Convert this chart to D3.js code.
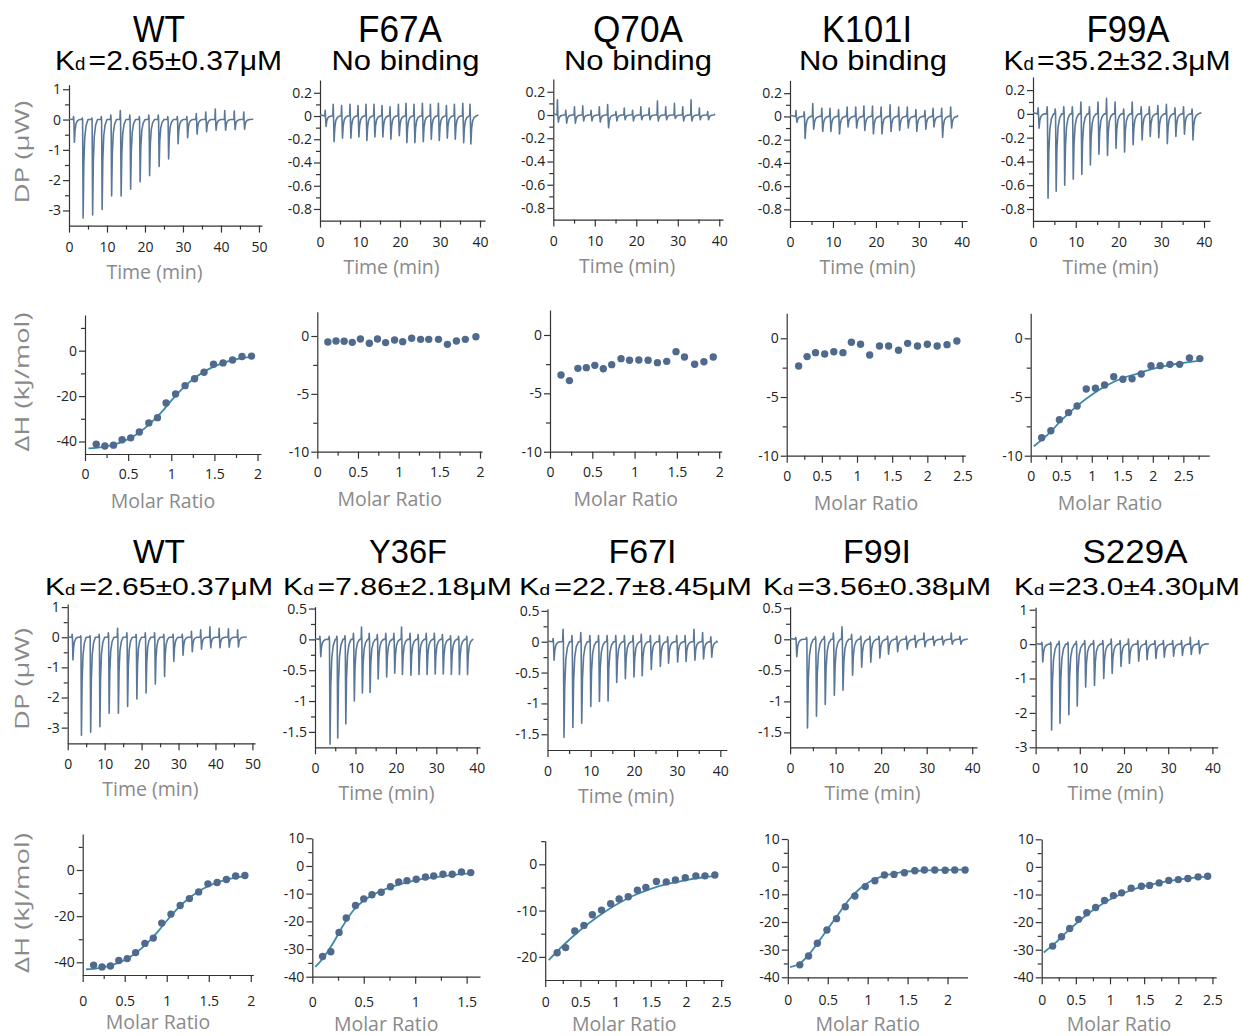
<!DOCTYPE html>
<html>
<head>
<meta charset="utf-8">
<script src="https://cdn.jsdelivr.net/npm/d3@7"></script>
<style>
  body { margin: 0; background: #fff; }
  svg { display: block; }
  .axis path, .axis line { stroke: #333; stroke-width: 1.2; }
  .axis .tick text { font-family: "Open Sans", sans-serif; font-size: 14px; fill: #222; }
  .title { font-family: "Liberation Sans", Arial, sans-serif; fill: #000; }
  .lab { font-family: "Open Sans", sans-serif; fill: #8a8a8a; font-size: 19.5px; }
</style>
</head>
<body>
<svg width="1242" height="1036"></svg>
<script>
var svg = d3.select("svg");

// panel titles
var names = ["WT", "F67A", "Q70A", "K101I", "F99A", "WT", "Y36F", "F67I", "F99I", "S229A"];
var kdText = ["=2.65±0.37μM", null, null, null, "=35.2±32.3μM",
              "=2.65±0.37μM", "=7.86±2.18μM", "=22.7±8.45μM", "=3.56±0.38μM", "=23.0±4.30μM"];

// axis ticks
var time50 = [0, 10, 20, 30, 40, 50], time50m = [5, 15, 25, 35, 45];
var time40 = [0, 10, 20, 30, 40], time40m = [5, 15, 25, 35];
var dp3 = [-3, -2, -1, 0, 1], dp3m = [-2.5, -1.5, -0.5, 0.5];
var dpSmall = [-0.8, -0.6, -0.4, -0.2, 0, 0.2], dpSmallm = [-0.7, -0.5, -0.3, -0.1, 0.1];
var dpMid = [-1.5, -1, -0.5, 0, 0.5], dpMidm = [-1.25, -0.75, -0.25, 0.25];
var mr2 = [0, 0.5, 1, 1.5, 2], mr2m = [0.25, 0.75, 1.25, 1.75];
var mr25 = [0, 0.5, 1, 1.5, 2, 2.5], mr25m = [0.25, 0.75, 1.25, 1.75, 2.25];
var mr25x = [0.25, 0.75, 1.25, 1.75, 2.25, 2.75];
var mr15 = [0, 0.5, 1, 1.5], mr15m = [0.25, 0.75, 1.25];
var dh40 = [-40, -20, 0], dh40m = [-30, -10, 10];
var dh10 = [-10, -5, 0], dh10m = [-7.5, -2.5];
var dhWide = [-40, -30, -20, -10, 0, 10], dhWidem = [-35, -25, -15, -5, 5];
var dh20 = [-20, -10, 0], dh20m = [-15, -5, 5];

// thermograms: injection time (min), lowest DP (uW), spike above baseline (uW)
var wtInj = [1.2, 3.5, 6.0, 8.5, 11.0, 13.5, 16.0, 18.5, 21.0, 23.5, 26.0, 28.5, 31.0, 33.5, 36.0, 38.5, 41.0, 43.5, 46.0];
var wtDP  = [-0.75, -3.25, -3.15, -2.97, -2.52, -2.52, -2.3, -2.05, -1.85, -1.55, -1.3, -0.8, -0.6, -0.48, -0.4, -0.35, -0.35, -0.33, -0.32];
var wtUp  = [0.1, 0.05, 0.05, 0.1, 0.15, 0.3, 0.15, 0.1, 0.15, 0.15, 0.1, 0.1, 0.1, 0.2, 0.25, 0.35, 0.3, 0.28, 0.25];

var f67aInj = [1.3, 3.3, 5.4, 7.5, 9.5, 11.5, 13.5, 15.5, 17.5, 19.6, 21.5, 23.5, 25.6, 27.6, 29.6, 31.6, 33.6, 35.7, 37.5];
var f67aDP  = [-0.09, -0.22, -0.19, -0.19, -0.18, -0.21, -0.18, -0.18, -0.2, -0.17, -0.23, -0.23, -0.22, -0.2, -0.21, -0.19, -0.2, -0.23, -0.24];
var f67aUp  = [0.05, 0.1, 0.09, 0.1, 0.09, 0.1, 0.1, 0.09, 0.08, 0.1, 0.11, 0.1, 0.11, 0.1, 0.11, 0.09, 0.1, 0.11, 0.1];

var q70aInj = [1.0, 3.0, 5.1, 7.1, 9.1, 11.1, 13.1, 15.1, 17.1, 19.1, 21.1, 23.1, 25.1, 27.1, 29.2, 31.2, 33.2, 35.2, 37.2];
var q70aDP  = [-0.06, -0.07, -0.07, -0.05, -0.05, -0.06, -0.11, -0.05, -0.04, -0.05, -0.04, -0.04, -0.05, -0.04, -0.03, -0.05, -0.05, -0.04, -0.04];
var q70aUp  = [0.13, 0.04, 0.07, 0.08, 0.04, 0.07, 0.09, 0.03, 0.06, 0.04, 0.07, 0.06, 0.12, 0.07, 0.1, 0.07, 0.13, 0.06, 0.03];

var k101iInj = [1.4, 3.3, 5.3, 7.4, 9.3, 11.3, 13.3, 15.3, 17.2, 19.2, 21.2, 23.3, 25.3, 27.3, 29.3, 31.4, 33.3, 35.3, 37.4];
var k101iDP  = [-0.05, -0.19, -0.11, -0.13, -0.13, -0.15, -0.09, -0.1, -0.12, -0.15, -0.15, -0.13, -0.12, -0.1, -0.13, -0.11, -0.09, -0.18, -0.1];
var k101iUp  = [0.05, 0.04, 0.11, 0.07, 0.07, 0.06, 0.08, 0.08, 0.09, 0.09, 0.08, 0.1, 0.08, 0.08, 0.06, 0.05, 0.07, 0.07, 0.08];

var f99aInj = [1.2, 3.3, 5.2, 7.2, 9.2, 11.2, 13.2, 15.2, 17.2, 19.2, 21.2, 23.2, 25.3, 27.2, 29.2, 31.2, 33.2, 35.2, 37.2];
var f99aDP  = [-0.12, -0.71, -0.65, -0.6, -0.55, -0.51, -0.43, -0.34, -0.35, -0.29, -0.32, -0.26, -0.22, -0.19, -0.2, -0.25, -0.19, -0.17, -0.22];
var f99aUp  = [0.05, 0.06, 0.04, 0.06, 0.06, 0.1, 0.06, 0.1, 0.13, 0.1, 0.04, 0.1, 0.06, 0.06, 0.07, 0.08, 0.05, 0.06, 0.04];

var y36fInj = [1.2, 3.5, 5.4, 7.4, 9.5, 11.5, 13.4, 15.4, 17.5, 19.5, 21.4, 23.5, 25.5, 27.5, 29.5, 31.5, 33.5, 35.5, 37.5];
var y36fDP  = [-0.28, -1.7, -1.6, -1.37, -1.0, -0.87, -0.86, -0.64, -0.61, -0.55, -0.57, -0.58, -0.57, -0.57, -0.56, -0.56, -0.57, -0.57, -0.57];
var y36fUp  = [0.05, 0.05, 0.05, 0.06, 0.1, 0.2, 0.1, 0.08, 0.1, 0.1, 0.2, 0.1, 0.08, 0.1, 0.1, 0.08, 0.06, 0.05, 0.05];

var f67iInj = [1.3, 3.6, 5.65, 7.7, 9.8, 11.8, 13.8, 15.8, 17.8, 19.8, 21.7, 23.8, 25.9, 27.8, 29.9, 31.85, 33.9, 35.9, 37.8];
var f67iDP  = [-0.3, -1.55, -1.39, -1.32, -1.05, -0.97, -0.96, -0.66, -0.6, -0.57, -0.55, -0.45, -0.4, -0.35, -0.33, -0.32, -0.3, -0.28, -0.25];
var f67iUp  = [0.05, 0.2, 0.1, 0.15, 0.1, 0.1, 0.1, 0.1, 0.1, 0.1, 0.12, 0.1, 0.1, 0.08, 0.1, 0.1, 0.2, 0.15, 0.08];

var f99iInj = [1.24, 3.6, 5.57, 7.5, 9.5, 11.4, 13.5, 15.5, 17.5, 19.5, 21.4, 23.4, 25.5, 27.4, 29.4, 31.4, 33.4, 35.4, 37.3];
var f99iDP  = [-0.28, -1.43, -1.24, -1.05, -0.9, -0.82, -0.58, -0.45, -0.37, -0.3, -0.24, -0.2, -0.16, -0.13, -0.12, -0.1, -0.09, -0.08, -0.08];
var f99iUp  = [0.03, 0.03, 0.04, 0.05, 0.1, 0.2, 0.08, 0.05, 0.05, 0.05, 0.05, 0.05, 0.05, 0.06, 0.1, 0.05, 0.05, 0.1, 0.05];

var s229aInj = [1.4, 3.4, 5.3, 7.3, 9.2, 11.1, 13.1, 15.2, 17.1, 19.1, 21.0, 23.1, 25.0, 27.0, 28.9, 31.0, 33.0, 35.0, 36.9];
var s229aDP  = [-0.52, -2.5, -2.3, -2.05, -1.8, -1.25, -1.2, -1.0, -0.85, -0.65, -0.56, -0.5, -0.45, -0.42, -0.38, -0.35, -0.33, -0.3, -0.28];
var s229aUp  = [0.05, 0.05, 0.08, 0.05, 0.08, 0.1, 0.1, 0.1, 0.15, 0.1, 0.15, 0.1, 0.1, 0.1, 0.1, 0.1, 0.1, 0.2, 0.1];

// isotherms: molar ratio, heat (kJ/mol), fitted curve points
var wtMR = [0.13, 0.23, 0.33, 0.43, 0.53, 0.63, 0.74, 0.84, 0.94, 1.05, 1.16, 1.27, 1.38, 1.49, 1.6, 1.71, 1.82, 1.93];
var wtDH = [-41.2, -42.0, -41.6, -39.2, -38.4, -35.8, -31.8, -29.5, -23.0, -19.1, -15.4, -12.4, -9.5, -6.0, -5.4, -4.1, -2.6, -2.4];
var wtFit = [[0.04, -43], [0.2, -42.5], [0.4, -40.6], [0.6, -36.8], [0.8, -30.5], [0.9, -26.5], [1.0, -22],
             [1.1, -17.8], [1.2, -14.2], [1.4, -8.8], [1.6, -5.4], [1.8, -3.4], [1.94, -2.6]];

var f67aMR = [0.13, 0.23, 0.33, 0.43, 0.53, 0.64, 0.74, 0.84, 0.95, 1.05, 1.16, 1.27, 1.37, 1.49, 1.6, 1.71, 1.82, 1.95];
var f67aDH = [-0.52, -0.43, -0.46, -0.55, -0.26, -0.63, -0.26, -0.57, -0.34, -0.49, -0.2, -0.29, -0.29, -0.29, -0.72, -0.43, -0.29, -0.06];

var q70aMR = [0.13, 0.23, 0.33, 0.43, 0.53, 0.63, 0.73, 0.84, 0.94, 1.05, 1.16, 1.27, 1.38, 1.49, 1.59, 1.71, 1.82, 1.93];
var q70aDH = [-3.43, -3.91, -2.86, -2.8, -2.6, -2.89, -2.54, -2.03, -2.17, -2.14, -2.17, -2.37, -2.26, -1.43, -1.89, -2.51, -2.29, -1.89];

var k101iMR = [0.17, 0.29, 0.41, 0.54, 0.67, 0.8, 0.92, 1.05, 1.18, 1.32, 1.45, 1.59, 1.72, 1.86, 2.0, 2.14, 2.28, 2.42];
var k101iDH = [-2.36, -1.56, -1.22, -1.34, -1.14, -1.22, -0.34, -0.51, -1.42, -0.65, -0.65, -1.02, -0.43, -0.65, -0.51, -0.65, -0.54, -0.23];

var f99aMR = [0.18, 0.33, 0.47, 0.62, 0.76, 0.91, 1.06, 1.21, 1.36, 1.51, 1.66, 1.81, 1.97, 2.12, 2.28, 2.44, 2.6, 2.77];
var f99aDH = [-8.47, -7.87, -6.93, -6.33, -5.77, -4.32, -4.26, -3.98, -3.27, -3.49, -3.44, -3.04, -2.33, -2.33, -2.22, -2.22, -1.68, -1.73];
var f99aFit = [[0.05, -9.2], [0.3, -8.1], [0.5, -7.0], [0.75, -5.8], [1.0, -4.8], [1.25, -4.0], [1.5, -3.4],
               [1.75, -3.0], [2.0, -2.6], [2.25, -2.3], [2.5, -2.1], [2.78, -1.9]];

var y36fMR = [0.1, 0.18, 0.26, 0.33, 0.42, 0.5, 0.58, 0.67, 0.76, 0.84, 0.92, 1.01, 1.1, 1.18, 1.27, 1.36, 1.45, 1.54];
var y36fDH = [-32.7, -31.0, -24.0, -18.8, -14.3, -11.9, -10.4, -9.5, -7.5, -5.8, -5.3, -4.8, -4.0, -3.6, -3.0, -3.0, -2.2, -2.4];
var y36fFit = [[0.03, -36.5], [0.1, -33.5], [0.2, -28], [0.3, -21.5], [0.4, -16], [0.5, -12.5], [0.6, -10.2],
               [0.8, -7.2], [1.0, -5.2], [1.2, -4], [1.4, -3.1], [1.55, -2.6]];

var f67iMR = [0.17, 0.29, 0.42, 0.55, 0.67, 0.8, 0.93, 1.05, 1.18, 1.31, 1.43, 1.58, 1.72, 1.85, 1.99, 2.14, 2.27, 2.41];
var f67iDH = [-19.1, -18.0, -14.4, -13.2, -10.9, -9.9, -8.5, -7.5, -7.0, -5.6, -5.0, -3.7, -3.8, -3.4, -2.9, -2.5, -2.5, -2.3];
var f67iFit = [[0.05, -20.7], [0.25, -17.6], [0.5, -14.2], [0.75, -11.3], [1.0, -8.8], [1.25, -6.8], [1.5, -5.3],
               [1.75, -4.2], [2.0, -3.4], [2.25, -2.8], [2.42, -2.5]];

var f99iMR = [0.15, 0.26, 0.37, 0.49, 0.61, 0.72, 0.84, 0.97, 1.09, 1.21, 1.33, 1.46, 1.59, 1.71, 1.84, 1.97, 2.09, 2.22];
var f99iDH = [-35.5, -32.3, -27.7, -22.9, -18.8, -14.5, -10.6, -7.2, -5.1, -3.0, -2.8, -2.2, -1.5, -1.2, -1.2, -1.3, -1.2, -1.2];
var f99iFit = [[0.03, -36.3], [0.15, -35], [0.3, -30.5], [0.45, -24.5], [0.6, -18.5], [0.75, -12.5], [0.9, -8],
               [1.05, -5], [1.2, -3.3], [1.4, -2.1], [1.7, -1.4], [2.0, -1.15], [2.22, -1.05]];

var s229aMR = [0.16, 0.29, 0.41, 0.54, 0.66, 0.79, 0.92, 1.05, 1.17, 1.31, 1.46, 1.58, 1.72, 1.86, 2.0, 2.14, 2.29, 2.43];
var s229aDH = [-28.7, -25.3, -22.3, -19.0, -16.6, -14.7, -12.2, -10.4, -9.4, -7.7, -7.0, -6.7, -5.8, -4.9, -4.6, -4.2, -3.6, -3.4];
var s229aFit = [[0.03, -31], [0.2, -27.5], [0.4, -22.8], [0.6, -18.5], [0.8, -14.8], [1.0, -11.8], [1.25, -9.0],
                [1.5, -7.0], [1.75, -5.6], [2.0, -4.6], [2.25, -3.9], [2.43, -3.5]];

// layout
var traceColor = "#5a7797", dotColor = "#4f6a8c", fitColor = "#3a8bab";

var dpPanels = [
  {inj: wtInj, dp: wtDP, up: wtUp, end: 48.5, x: [0, 50.8], xr: [69, 262], y: [-3.5, 1.15], yr: [225.6, 84.7], xt: time50, xm: time50m, yt: dp3, ym: dp3m, pad: 9},
  {inj: f67aInj, dp: f67aDP, up: f67aUp, end: 39.6, x: [0, 41.25], xr: [320, 485], y: [-0.9, 0.31], yr: [220.6, 80], xt: time40, xm: time40m, yt: dpSmall, ym: dpSmallm, pad: 9},
  {inj: q70aInj, dp: q70aDP, up: q70aUp, end: 39, x: [0, 40.9], xr: [553.3, 723], y: [-0.9, 0.31], yr: [219.6, 79], xt: time40, xm: time40m, yt: dpSmall, ym: dpSmallm, pad: 9},
  {inj: k101iInj, dp: k101iDP, up: k101iUp, end: 39.1, x: [0, 41.2], xr: [790, 967], y: [-0.9, 0.31], yr: [221, 80.4], xt: time40, xm: time40m, yt: dpSmall, ym: dpSmallm, pad: 9},
  {inj: f99aInj, dp: f99aDP, up: f99aUp, end: 39.4, x: [0, 41.4], xr: [1033, 1210], y: [-0.9, 0.31], yr: [220.9, 77], xt: time40, xm: time40m, yt: dpSmall, ym: dpSmallm, pad: 9},
  {inj: wtInj, dp: wtDP, up: wtUp, end: 48.5, x: [0, 50.7], xr: [67.7, 255], y: [-3.52, 1.1], yr: [743.3, 604.1], xt: time50, xm: time50m, yt: dp3, ym: dp3m, pad: 9},
  {inj: y36fInj, dp: y36fDP, up: y36fUp, end: 39, x: [0, 40.8], xr: [315, 480], y: [-1.75, 0.53], yr: [747.3, 606.7], xt: time40, xm: time40m, yt: dpMid, ym: dpMidm, pad: 9},
  {inj: f67iInj, dp: f67iDP, up: f67iUp, end: 39, x: [0, 41.5], xr: [547.5, 726.8], y: [-1.755, 0.535], yr: [750, 608.7], xt: time40, xm: time40m, yt: dpMid, ym: dpMidm, pad: 9},
  {inj: f99iInj, dp: f99iDP, up: f99iUp, end: 39, x: [0, 41.05], xr: [790.1, 977], y: [-1.74, 0.525], yr: [747.3, 606.7], xt: time40, xm: time40m, yt: dpMid, ym: dpMidm, pad: 9},
  {inj: s229aInj, dp: s229aDP, up: s229aUp, end: 39.2, x: [0, 41.2], xr: [1035.6, 1217.7], y: [-3, 1.07], yr: [747.3, 607.3], xt: time40, xm: time40m, yt: dp3, ym: dp3m, pad: 9}
];

var dhPanels = [
  {mr: wtMR, dh: wtDH, fit: wtFit, x: [0, 2.04], xr: [85, 261], y: [-45.5, 15.7], yr: [454, 315], xt: mr2, xm: mr2m, yt: dh40, ym: dh40m, pad: 8},
  {mr: f67aMR, dh: f67aDH, fit: null, x: [0, 2.025], xr: [317.3, 482], y: [-10, 2.1], yr: [451.7, 311.7], xt: mr2, xm: mr2m, yt: dh10, ym: dh10m, pad: 8},
  {mr: q70aMR, dh: q70aDH, fit: null, x: [0, 2.03], xr: [550, 721.7], y: [-10, 2.14], yr: [451.7, 310], xt: mr2, xm: mr2m, yt: dh10, ym: dh10m, pad: 8},
  {mr: k101iMR, dh: k101iDH, fit: null, x: [0, 2.54], xr: [786.7, 965.3], y: [-10, 2.13], yr: [455.7, 313.3], xt: mr25, xm: mr25m, yt: dh10, ym: dh10m, pad: 8},
  {mr: f99aMR, dh: f99aDH, fit: f99aFit, x: [0, 2.925], xr: [1030.7, 1209.3], y: [-10, 2.13], yr: [455.7, 313.3], xt: mr25, xm: mr25x, yt: dh10, ym: dh10m, pad: 8},
  {mr: wtMR, dh: wtDH, fit: wtFit, x: [0, 2.03], xr: [82.7, 253.3], y: [-45.5, 15.6], yr: [975, 834], xt: mr2, xm: mr2m, yt: dh40, ym: dh40m, pad: 14},
  {mr: y36fMR, dh: y36fDH, fit: y36fFit, x: [0, 1.63], xr: [312.3, 480], y: [-40, 10], yr: [976.7, 838.3], xt: mr15, xm: mr15m, yt: dhWide, ym: dhWidem, pad: 13},
  {mr: f67iMR, dh: f67iDH, fit: f67iFit, x: [0, 2.533], xr: [545.2, 723.5], y: [-25, 5.1], yr: [980, 840.7], xt: mr25, xm: mr25m, yt: dh20, ym: dh20m, pad: 10},
  {mr: f99iMR, dh: f99iDH, fit: f99iFit, x: [0, 2.25], xr: [787.8, 967.5], y: [-40, 10], yr: [977.3, 839], xt: mr2, xm: mr2m, yt: dhWide, ym: dhWidem, pad: 11},
  {mr: s229aMR, dh: s229aDH, fit: s229aFit, x: [0, 2.555], xr: [1041.7, 1216.2], y: [-40, 10], yr: [977.3, 839.3], xt: mr25, xm: mr25m, yt: dhWide, ym: dhWidem, pad: 11}
];

var nameX = [159, 400, 638, 867, 1128, 159, 408, 642.5, 877, 1135];
var nameW = [52, 84, 90, 90, 83, 52, 78, 68, 68, 105];
var subX = [168.5, 405.5, 638, 873, 1117, 159, 397.5, 635.5, 877, 1127];
var subW = [227, 148, 148, 148, 227, 228, 229, 233, 228, 226];

function fmt(d) { return String(d); }

function drawAxes(g, x, y, p) {
  g.append("g")
      .attr("class", "axis")
      .attr("transform", "translate(0," + y.range()[0] + ")")
      .call(d3.axisBottom(x).tickValues(p.xt).tickSize(7).tickSizeOuter(0).tickPadding(p.pad).tickFormat(fmt));
  g.append("g")
      .attr("class", "axis")
      .attr("transform", "translate(0," + y.range()[0] + ")")
      .call(d3.axisBottom(x).tickValues(p.xm).tickSize(4).tickSizeOuter(0).tickFormat(""))
    .select(".domain").remove();
  g.append("g")
      .attr("class", "axis")
      .attr("transform", "translate(" + x.range()[0] + ",0)")
      .call(d3.axisLeft(y).tickValues(p.yt).tickSize(6).tickSizeOuter(0).tickPadding(2).tickFormat(fmt));
  g.append("g")
      .attr("class", "axis")
      .attr("transform", "translate(" + x.range()[0] + ",0)")
      .call(d3.axisLeft(y).tickValues(p.ym).tickSize(4).tickSizeOuter(0).tickFormat(""))
    .select(".domain").remove();
}

// one injection: small spike up, sharp drop to the lowest value, decay back to baseline
function tracePoints(p) {
  var pts = [[0, 0.01]];
  p.inj.forEach(function(t, i) {
    var d = p.dp[i], u = p.up[i];
    pts.push([t - 0.1, 0], [t, u], [t + 0.08, 0], [t + 0.22, d], [t + 0.4, d * 0.45],
             [t + 0.65, d * 0.18], [t + 1.0, d * 0.06], [t + 1.5, 0]);
  });
  pts.push([p.end, 0.01]);
  return pts;
}

dpPanels.forEach(function(p) {
  var x = d3.scaleLinear().domain(p.x).range(p.xr),
      y = d3.scaleLinear().domain(p.y).range(p.yr);
  var g = svg.append("g");
  drawAxes(g, x, y, p);

  var line = d3.line()
      .x(function(d) { return x(d[0]); })
      .y(function(d) { return y(d[1]); });
  g.append("path")
      .attr("d", line(tracePoints(p)))
      .attr("fill", "none")
      .attr("stroke", traceColor)
      .attr("stroke-width", 1.6)
      .attr("stroke-linejoin", "round");

  g.append("text")
      .attr("class", "lab")
      .attr("x", (p.xr[0] + p.xr[1]) / 2 - 11)
      .attr("y", p.yr[0] + 53)
      .attr("text-anchor", "middle")
      .text("Time (min)");
});

dhPanels.forEach(function(p) {
  var x = d3.scaleLinear().domain(p.x).range(p.xr),
      y = d3.scaleLinear().domain(p.y).range(p.yr);
  var g = svg.append("g");
  drawAxes(g, x, y, p);

  if (p.fit) {
    g.append("path")
        .attr("d", d3.line()
            .curve(d3.curveMonotoneX)
            .x(function(d) { return x(d[0]); })
            .y(function(d) { return y(d[1]); })(p.fit))
        .attr("fill", "none")
        .attr("stroke", fitColor)
        .attr("stroke-width", 1.8);
  }

  g.selectAll("circle")
    .data(p.mr)
    .enter().append("circle")
      .attr("cx", function(d) { return x(d); })
      .attr("cy", function(d, i) { return y(p.dh[i]); })
      .attr("r", 3.7)
      .attr("fill", dotColor);

  g.append("text")
      .attr("class", "lab")
      .attr("x", (p.xr[0] + p.xr[1]) / 2 - 10)
      .attr("y", Math.min(p.yr[0] + 54, 1031))
      .attr("text-anchor", "middle")
      .text("Molar Ratio");
});

// titles
names.forEach(function(n, i) {
  var top = i < 5;
  svg.append("text")
      .attr("class", "title")
      .attr("x", nameX[i])
      .attr("y", top ? 41.5 : 563)
      .attr("text-anchor", "middle")
      .attr("font-size", top ? 36 : 33)
      .attr("textLength", nameW[i])
      .attr("lengthAdjust", "spacingAndGlyphs")
      .text(n);

  var t = svg.append("text")
      .attr("class", "title")
      .attr("x", subX[i])
      .attr("y", top ? 70 : 595)
      .attr("text-anchor", "middle")
      .attr("font-size", top ? 28.5 : 24)
      .attr("textLength", subW[i])
      .attr("lengthAdjust", "spacingAndGlyphs");
  if (kdText[i]) {
    t.append("tspan").text("K");
    t.append("tspan").attr("font-size", "0.62em").text("d");
    t.append("tspan").attr("dx", 3).text(kdText[i]);
  } else {
    t.text("No binding");
  }
});

// rotated y titles
[["DP (μW)", 152, 103], ["ΔH (kJ/mol)", 382, 139], ["DP (μW)", 679, 102], ["ΔH (kJ/mol)", 903, 140]].forEach(function(d) {
  svg.append("text")
      .attr("class", "lab")
      .attr("transform", "translate(22," + d[1] + ") rotate(-90)")
      .attr("dy", "0.35em")
      .attr("text-anchor", "middle")
      .attr("font-size", 20)
      .attr("textLength", d[2])
      .attr("lengthAdjust", "spacingAndGlyphs")
      .text(d[0]);
});
</script>
</body>
</html>
